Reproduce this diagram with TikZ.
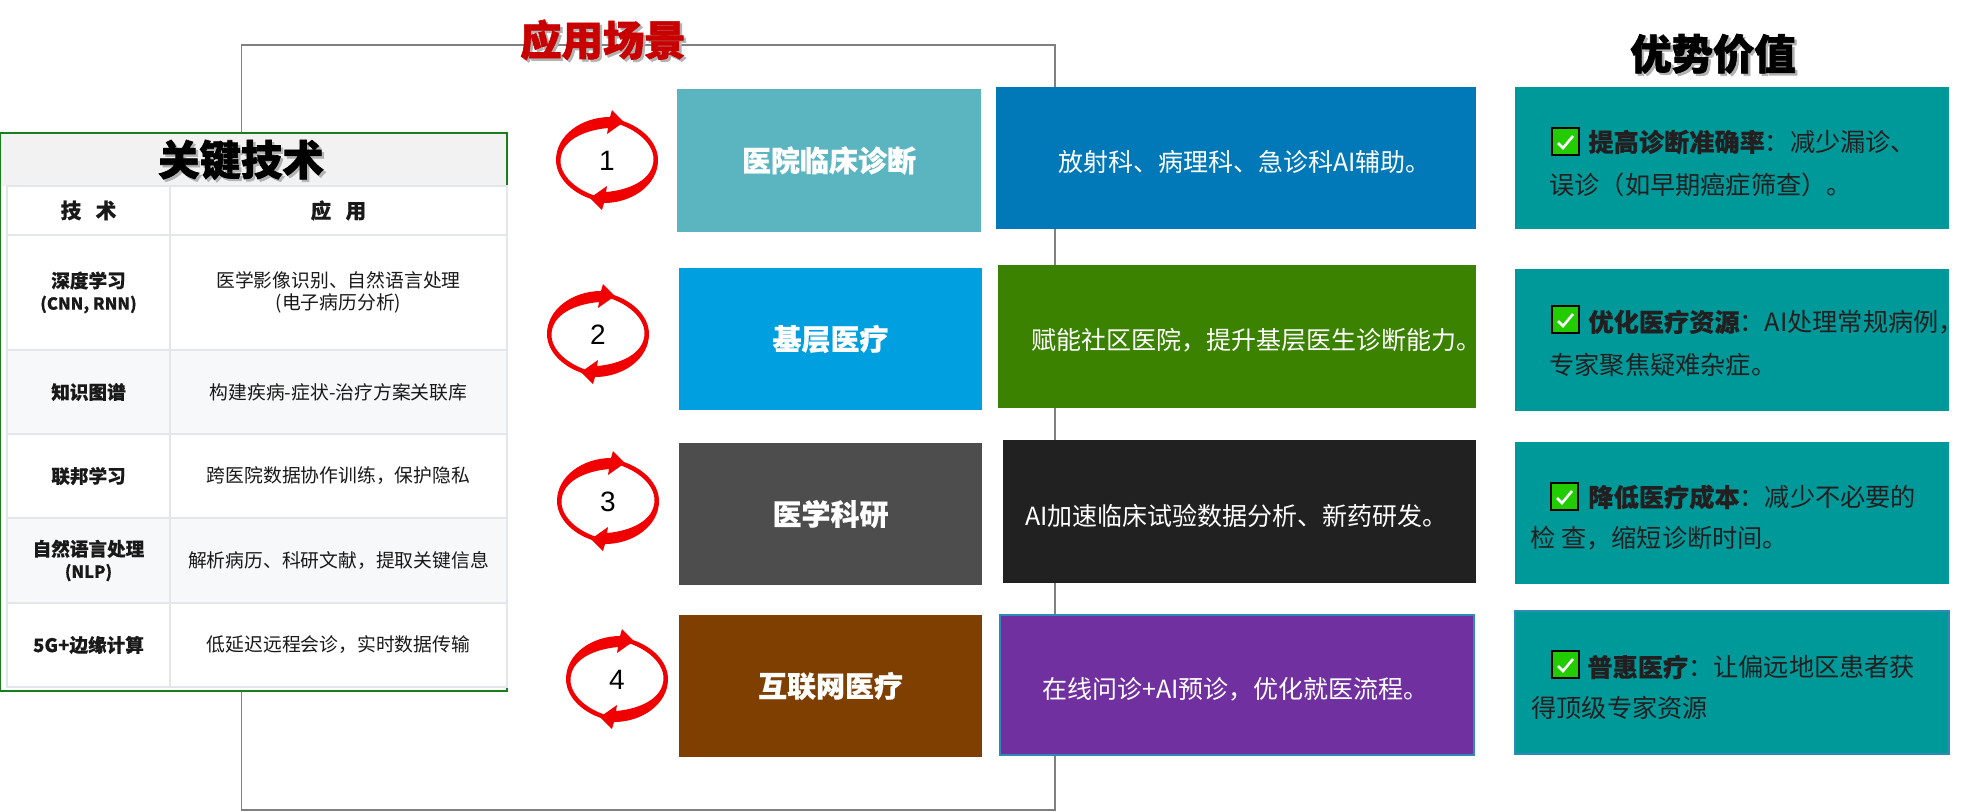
\documentclass[tikz,border=0pt]{standalone}
\usepackage{fontspec}
\setmainfont{Noto Sans CJK SC}[BoldFeatures={FakeBold=0.4}]
\newfontfamily\heavyf{Noto Sans CJK SC}[BoldFeatures={FakeBold=1.6}]
\newfontfamily\numf{Liberation Sans}
\definecolor{framec}{HTML}{808080}
\definecolor{greenb}{HTML}{1A7F1A}
\definecolor{headb}{HTML}{F2F2F2}
\definecolor{cellb}{HTML}{E3E6EA}
\definecolor{cella}{HTML}{F7F8FA}
\definecolor{titler}{HTML}{C80000}
\definecolor{teal}{HTML}{009999}
\definecolor{tealtext}{HTML}{231F20}
\definecolor{bordb}{HTML}{2E8BB8}
\definecolor{ca}{HTML}{5AB5C0}\definecolor{cb}{HTML}{0179B8}
\definecolor{cc}{HTML}{009FE0}\definecolor{cd}{HTML}{3A8200}
\definecolor{ce}{HTML}{4D4D4D}\definecolor{cf}{HTML}{212121}
\definecolor{cg}{HTML}{7F3F00}\definecolor{ch}{HTML}{7030A0}
\definecolor{chkg}{HTML}{22CC00}
\definecolor{ringr}{HTML}{F00000}
\newcommand\shadowed[1]{\leavevmode\rlap{\raisebox{-1.2pt}{\kern1.2pt\textcolor{black!30}{#1}}}#1}
\newcommand\latinsm[1]{{\fontsize{8.3}{11}\selectfont #1}}
\newcommand\bx[8]{%
  \pgfmathsetmacro\bw{(#4-#2)*0.5}\pgfmathsetmacro\bh{(#5-#3)*0.5}%
  \node[#6,minimum width=\bw pt,minimum height=\bh pt] (#1) at ({(#2+#4)/2},{(#3+#5)/2}) {#8};%
}
\newcommand\chk[3]{%
  \node[chkbox] (#1) at (#2+13.5,#3+13.5) {};%
  \draw[chkmark] (#2+6,#3+15) -- (#2+11,#3+20) -- (#2+21,#3+8);%
}
\newcommand\ringarrow[4]{%
  \begin{scope}[shift={(#2,#3)}]
    \foreach \a in {0,180}{
      \fill[ringr,rotate=\a] (-9,41) .. controls (-34,35) and (-51,18) .. (-51,0)
        .. controls (-51,-25) and (-25,-43) .. (3,-43) -- (5,-50) -- (17,-38) -- (0,-26) -- (1,-32)
        .. controls (-22,-30) and (-46.5,-20) .. (-46.5,1) .. controls (-46.5,16) and (-30,31) .. (-8,37) -- cycle;
    }
    \node[numst] (#1) at (0,1) {#4};
  \end{scope}%
}
\tikzset{
  x=0.5pt,y=-0.5pt,
  plainbox/.style={inner sep=0pt,outer sep=0pt,draw=none},
  titleA/.style={font=\bfseries\heavyf\fontsize{20.7}{24}\selectfont,inner sep=0pt},
  headst/.style={plainbox,fill=headb},
  cellst/.style={inner sep=0pt,outer sep=0pt,draw=cellb,line width=0.75pt,fill=white,align=center,
     font=\fontsize{9.4}{11}\selectfont,text=black!90},
  cellalt/.style={cellst,fill=cella},
  headtxt/.style={font=\bfseries\fontsize{10.3}{12}\selectfont},
  leftcell/.style={font=\bfseries\fontsize{9.3}{11}\selectfont},
  scen/.style={plainbox,text=white,font=\bfseries\fontsize{14.5}{17}\selectfont},
  desc/.style={inner sep=0pt,anchor=west,text=white,font=\fontsize{12.5}{14}\selectfont},
  adv/.style={inner sep=0pt,anchor=west,text=tealtext,font=\fontsize{12.6}{14}\selectfont},
  chkbox/.style={draw=black,line width=0.8pt,fill=chkg,minimum width=13.5pt,minimum height=13.5pt,inner sep=0pt},
  chkmark/.style={draw=white,line width=1.3pt},
  numst/.style={inner sep=0pt,font=\numf\fontsize{14}{16}\selectfont,text=black},
}
\begin{document}
\begin{tikzpicture}
\useasboundingbox (0,0) rectangle (1975,811);
% frame
\node[draw=framec,line width=0.6pt,minimum width=406.75pt,minimum height=382.5pt,inner sep=0pt] (frame) at (648.25,427.5) {};
% key technology panel
\bx{panel}{0}{133}{507}{691}{fill=white,draw=greenb,line width=0.6pt,inner sep=0pt}{}{}
\bx{band}{1}{134}{506}{186}{headst}{}{}
\node[titleA,text=black] (ttech) at (241,161) {\shadowed{关键技术}};
\bx{hA}{7}{186}{170}{235}{cellst,headtxt}{}{技\hspace{0.7em}术}
\bx{hB}{170}{186}{507}{235}{cellst,headtxt}{}{应\hspace{0.7em}用}
\bx{r1A}{7}{235}{170}{350}{cellst,leftcell}{}{深度学习\\\latinsm{(CNN, RNN)}}
\bx{r1B}{170}{235}{507}{350}{cellst}{}{医学影像识别、自然语言处理\\(电子病历分析)}
\bx{r2A}{7}{350}{170}{434}{cellalt,leftcell}{}{知识图谱}
\bx{r2B}{170}{350}{507}{434}{cellalt}{}{构建疾病-症状-治疗方案关联库}
\bx{r3A}{7}{434}{170}{518}{cellst,leftcell}{}{联邦学习}
\bx{r3B}{170}{434}{507}{518}{cellst}{}{跨医院数据协作训练，保护隐私}
\bx{r4A}{7}{518}{170}{603}{cellalt,leftcell}{}{自然语言处理\\\latinsm{(NLP)}}
\bx{r4B}{170}{518}{507}{603}{cellalt}{}{解析病历、科研文献，提取关键信息}
\bx{r5A}{7}{603}{170}{687}{cellst,leftcell}{}{5G+边缘计算}
\bx{r5B}{170}{603}{507}{687}{cellst}{}{低延迟远程会诊，实时数据传输}
% titles
\node[titleA,text=titler] (tscene) at (603,41) {\shadowed{应用场景}};
\node[titleA,text=black] (tvalue) at (1713,55) {\shadowed{优势价值}};
% ring arrows
\ringarrow{n1}{607}{160}{1}
\ringarrow{n2}{598}{334}{2}
\ringarrow{n3}{608}{501}{3}
\ringarrow{n4}{617}{679}{4}
% scenario boxes
\bx{a1}{677}{89}{981}{232}{scen,fill=ca}{}{医院临床诊断}
\bx{a2}{679}{268}{982}{410}{scen,fill=cc}{}{基层医疗}
\bx{a3}{679}{443}{982}{585}{scen,fill=ce}{}{医学科研}
\bx{a4}{679}{615}{982}{757}{scen,fill=cg}{}{互联网医疗}
% description boxes
\bx{b1}{996}{87}{1476}{229}{plainbox,fill=cb}{}{}
\bx{b2}{998}{265}{1476}{408}{plainbox,fill=cd}{}{}
\bx{b3}{1003}{440}{1476}{583}{plainbox,fill=cf}{}{}
\bx{b4}{1000}{615}{1474}{755}{fill=ch,draw=bordb,line width=1pt,inner sep=0pt}{}{}
\node[desc] (bt1) at (1058,162) {放射科、病理科、急诊科AI辅助。};
\node[desc] (bt2) at (1031,340) {赋能社区医院，提升基层医生诊断能力。};
\node[desc] (bt3) at (1025,516) {AI加速临床试验数据分析、新药研发。};
\node[desc] (bt4) at (1042,689) {在线问诊+AI预诊，优化就医流程。};
% advantage boxes
\bx{c1}{1515}{87}{1949}{229}{plainbox,fill=teal}{}{}
\bx{c2}{1515}{269}{1949}{411}{plainbox,fill=teal}{}{}
\bx{c3}{1515}{442}{1949}{584}{plainbox,fill=teal}{}{}
\bx{c4}{1515}{611}{1949}{754}{fill=teal,draw=bordb,line width=0.7pt,inner sep=0pt}{}{}
\chk{k1}{1552}{128}
\chk{k2}{1552}{306}
\chk{k3}{1551}{483}
\chk{k4}{1552}{651}
\node[adv] (ct1) at (1588,142) {\textbf{提高诊断准确率}：减少漏诊、};
\node[adv] (cu1) at (1549,185) {误诊（如早期癌症筛查）。};
\node[adv] (ct2) at (1588,322) {\textbf{优化医疗资源}：AI处理常规病例，};
\node[adv] (cu2) at (1549,365) {专家聚焦疑难杂症。};
\node[adv] (ct3) at (1588,497) {\textbf{降低医疗成本}：减少不必要的};
\node[adv] (cu3) at (1530,538) {检 查，缩短诊断时间。};
\node[adv] (ct4) at (1587,667) {\textbf{普惠医疗}：让偏远地区患者获};
\node[adv] (cu4) at (1531,708) {得顶级专家资源};
\end{tikzpicture}
\end{document}
